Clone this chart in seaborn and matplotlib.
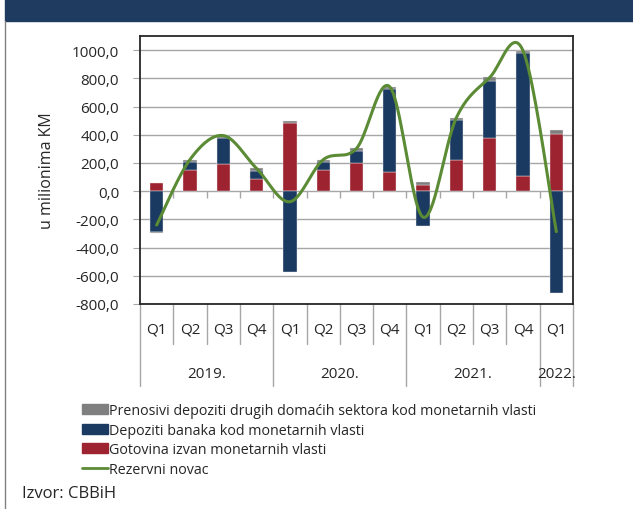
import numpy as np
import seaborn as sns
from matplotlib import pyplot as plt
from matplotlib.patches import Rectangle
from matplotlib.lines import Line2D
from matplotlib.ticker import FuncFormatter

quarters = ['Q1', 'Q2', 'Q3', 'Q4', 'Q1', 'Q2', 'Q3', 'Q4', 'Q1', 'Q2', 'Q3', 'Q4', 'Q1']
years = ['2019.', '2020.', '2021.', '2022.']
year_spans = [(0, 3), (4, 7), (8, 11), (12, 12)]

# u milionima KM
gotovina = [60, 150, 190, 85, 480, 150, 200, 138, 45, 218, 375, 109, 408]
depoziti_banaka = [-290, 54, 185, 60, -570, 55, 85, 583, -247, 285, 403, 868, -721]
prenosivi = [-10, 20, 19, 16, 15, 18, 18, 19, 17, 19, 28, 19, 26]

labels = ['Prenosivi depoziti drugih domaćih sektora kod monetarnih vlasti',
          'Depoziti banaka kod monetarnih vlasti',
          'Gotovina izvan monetarnih vlasti',
          'Rezervni novac']
colors = {'gray': '#7f7f7f', 'blue': '#1b3a61', 'red': '#9e2330', 'green': '#5b8b35'}


def smooth(y, steps=20):
    # Catmull-Rom like Excel's smoothed line
    y = np.asarray(y, dtype=float)
    x = np.arange(len(y), dtype=float)
    px = np.concatenate([[x[0]], x, [x[-1]]])
    py = np.concatenate([[y[0]], y, [y[-1]]])
    xs, ys = [], []
    t = np.linspace(0, 1, steps, endpoint=False)
    for i in range(1, len(px) - 2):
        p0, p1, p2, p3 = py[i - 1], py[i], py[i + 1], py[i + 2]
        q0, q1, q2, q3 = px[i - 1], px[i], px[i + 1], px[i + 2]
        for arr, a0, a1, a2, a3 in ((xs, q0, q1, q2, q3), (ys, p0, p1, p2, p3)):
            arr.extend(0.5 * ((2 * a1) + (-a0 + a2) * t
                              + (2 * a0 - 5 * a1 + 4 * a2 - a3) * t ** 2
                              + (-a0 + 3 * a1 - 3 * a2 + a3) * t ** 3))
    xs.append(x[-1])
    ys.append(y[-1])
    return np.array(xs), np.array(ys)


sns.set_style('white')
plt.rcParams['font.family'] = ['Open Sans', 'DejaVu Sans']

fig = plt.figure(figsize=(6.33, 5.10), dpi=100)
fig.patches.append(Rectangle((5 / 633, 1 - 22 / 510), 1, 22 / 510, transform=fig.transFigure,
                             color='#1f3b5f', zorder=0))
fig.lines.append(Line2D([5 / 633, 5 / 633], [0, 1 - 22 / 510], transform=fig.transFigure,
                        color='#808080', lw=1))

ax = fig.add_axes([140 / 633, 1 - 305 / 510, 433 / 633, 268 / 510])

x = np.arange(len(quarters))
pos_bottom = np.zeros(len(x))
neg_bottom = np.zeros(len(x))
for vals, col in ((gotovina, 'red'), (depoziti_banaka, 'blue'), (prenosivi, 'gray')):
    vals = np.asarray(vals, dtype=float)
    bottom = np.where(vals >= 0, pos_bottom, neg_bottom)
    ax.bar(x, vals, bottom=bottom, width=0.4, color=colors[col], edgecolor='#e8e8e8',
           linewidth=0.3, zorder=3)
    pos_bottom += np.where(vals >= 0, vals, 0)
    neg_bottom += np.where(vals < 0, vals, 0)

total = np.array(gotovina) + np.array(depoziti_banaka) + np.array(prenosivi)
sx, sy = smooth(total)
sns.lineplot(x=sx, y=sy, ax=ax, color=colors['green'], lw=2.2, sort=False, zorder=4)

ax.set_xlim(-0.5, len(x) - 0.5)
ax.set_ylim(-800, 1100)
ax.set_yticks(np.arange(-800, 1001, 200))
ax.yaxis.set_major_formatter(FuncFormatter(lambda v, p: f'{v:.1f}'.replace('.', ',')))
ax.yaxis.grid(True, color='#a6a6a6', lw=1)
ax.set_axisbelow(True)
ax.set_xticks([])
ax.tick_params(axis='y', left=True, length=5, color='#a6a6a6', labelsize=11, pad=10)
for s in ax.spines.values():
    s.set_color('#262626')
    s.set_linewidth(1.3)
ax.set_ylabel('u milionima KM', fontsize=11.5, labelpad=12)

bounds = np.arange(-0.5, len(x), 1.0)
ax.vlines(bounds, -45, 0, color='#a6a6a6', lw=1, zorder=2)

tr = ax.get_xaxis_transform()
for i, q in enumerate(quarters):
    ax.text(i, -0.093, q, transform=tr, ha='center', va='center', fontsize=11)
year_bounds = [-0.5] + [e + 0.5 for _, e in year_spans]
for b in bounds:
    yb = -0.306 if b in year_bounds else -0.149
    ax.plot([b, b], [0, yb], transform=tr, color='#a6a6a6', lw=1, clip_on=False)
for (s, e), yr in zip(year_spans, years):
    ax.text((s + e) / 2, -0.261, yr, transform=tr, ha='center', va='center', fontsize=11)

handles = [Rectangle((0, 0), 1, 1, color=colors['gray']),
           Rectangle((0, 0), 1, 1, color=colors['blue']),
           Rectangle((0, 0), 1, 1, color=colors['red']),
           Line2D([0], [0], color=colors['green'], lw=2)]
fig.legend(handles, labels, loc='upper left', bbox_to_anchor=(75 / 633, 1 - 397 / 510),
           frameon=False, fontsize=10.3, handlelength=1.8, handleheight=0.7,
           handletextpad=0.1, labelspacing=0.32, borderpad=0)

fig.text(22 / 633, 1 - 494 / 510, 'Izvor: CBBiH', fontsize=12, va='center')

fig.savefig('out.png', dpi=100)
plt.close(fig)
